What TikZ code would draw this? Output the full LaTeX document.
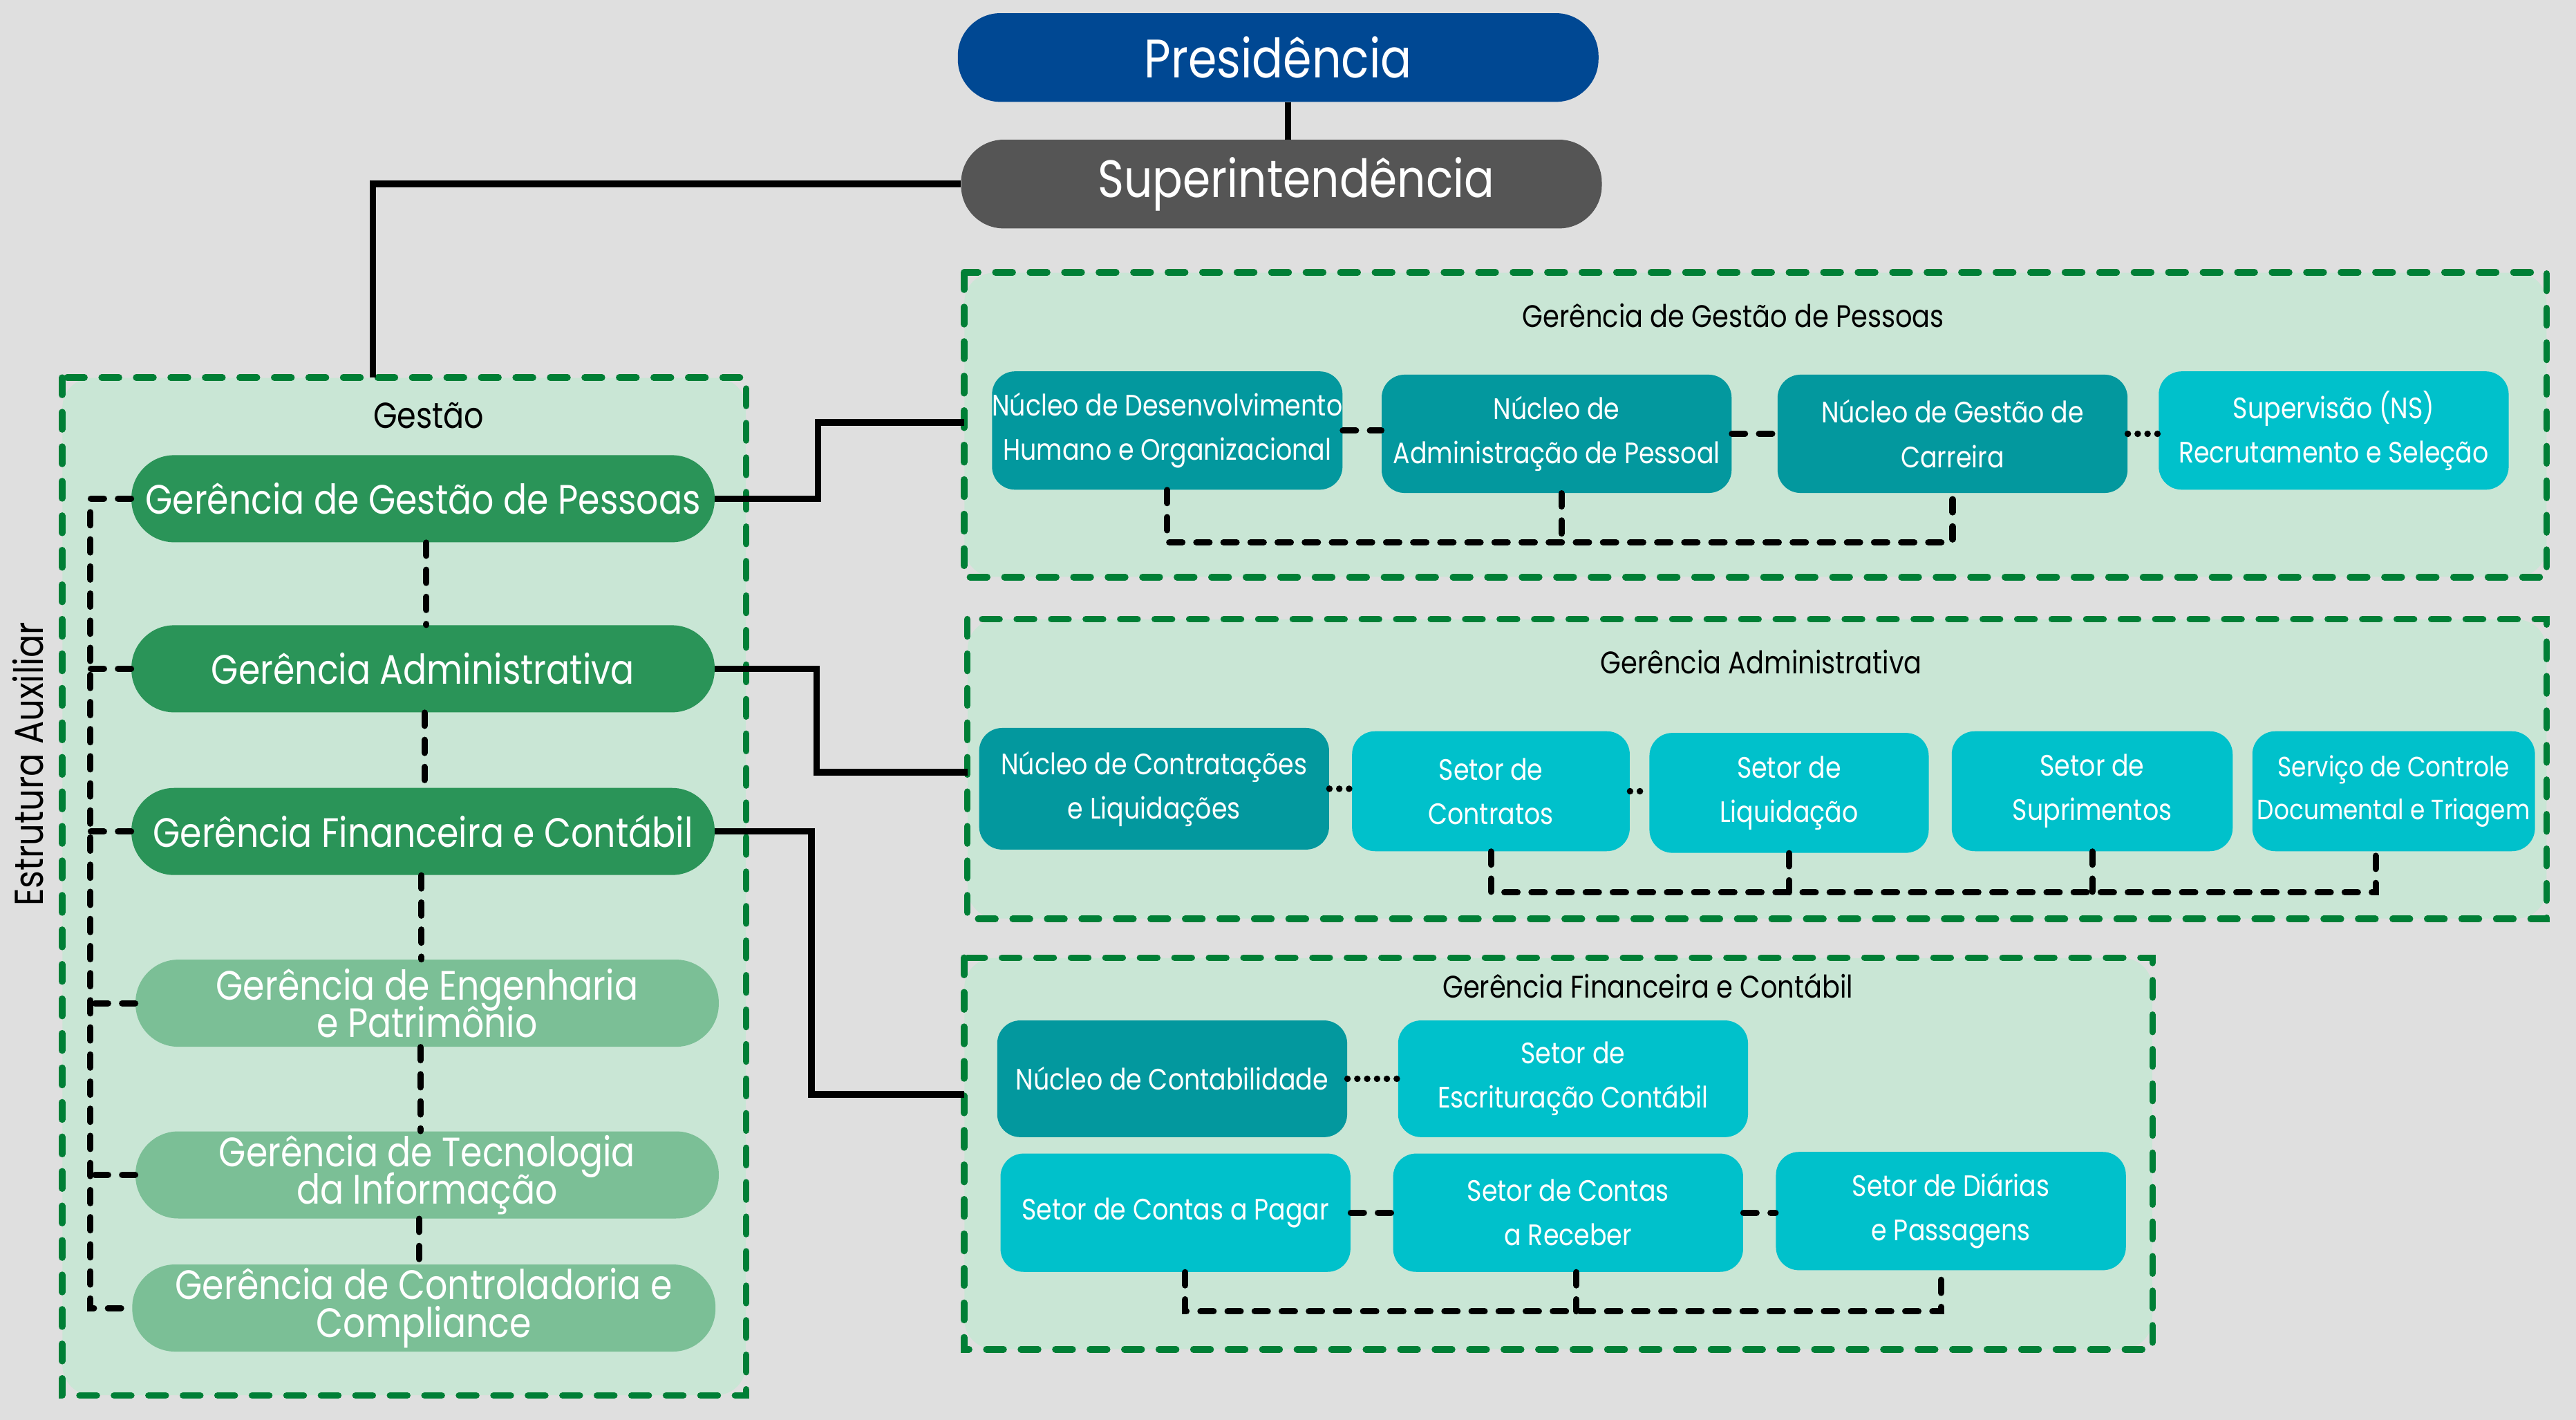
\documentclass[tikz,border=0pt]{standalone}
\usepackage{fontspec}
\setmainfont{Poppins}[FakeStretch=0.85]
\usetikzlibrary{calc}
\definecolor{bgc}{HTML}{DFDFDF}
\definecolor{presblue}{HTML}{004893}
\definecolor{supgray}{HTML}{555555}
\definecolor{gdark}{HTML}{2A9458}
\definecolor{glight}{HTML}{7BBF96}
\definecolor{boxfill}{HTML}{C9E6D5}
\definecolor{dgreen}{HTML}{007F36}
\definecolor{tealdark}{HTML}{03989E}
\definecolor{cyanlight}{HTML}{00C1CB}
\begin{document}
\setlength{\lineskiplimit}{-40pt}
\begin{tikzpicture}[x=1pt,y=-1pt,
  pill/.style={rectangle, rounded corners=26pt, text=white, inner sep=0pt, align=center, font=\fontsize{25}{23}\selectfont},
  toppill/.style={pill, minimum width=390pt, minimum height=54pt, font=\fontsize{33}{36}\selectfont},
  gpill/.style={pill, minimum width=355pt, minimum height=53pt},
  unit/.style={rectangle, rounded corners=14pt, text=white, inner sep=0pt, align=center, minimum height=72pt, minimum width=213pt, font=\fontsize{18}{27}\selectfont},
  dark/.style={unit, fill=tealdark},
  light/.style={unit, fill=cyanlight},
  cont/.style={rectangle, fill=boxfill, rounded corners=18pt, inner sep=0pt},
  ttl/.style={inner sep=0pt, text=black, font=\fontsize{19}{22}\selectfont},
  gdash/.style={draw=dgreen, line width=4pt, line cap=round, dash pattern=on 10.5pt off 10.5pt},
  conn/.style={draw=black, line width=4pt},
  bdash/.style={draw=black, line width=3.8pt, line cap=round, dash pattern=on 8pt off 8.5pt},
  bdot/.style={draw=black, line width=4pt, line cap=round, dash pattern=on 0pt off 6pt}
]
\useasboundingbox (0,0) rectangle (1568,864);
\fill[bgc] (0,0) rectangle (1568,864);

% containers
\node[cont, minimum width=416pt, minimum height=619pt] (gestao) at (246,539.5) {};
\node[cont, minimum width=963pt, minimum height=185pt] (cggp) at (1068.5,258.5) {};
\node[cont, minimum width=961pt, minimum height=182pt] (cga) at (1069.5,468) {};
\node[cont, minimum width=723pt, minimum height=238pt] (cgfc) at (948.5,702) {};
\foreach \c in {gestao,cggp,cga,cgfc}
  \draw[gdash] (\c.north west) rectangle (\c.south east);

% titles
\node[inner sep=0pt, font=\fontsize{22}{24}\selectfont] (tgestao) at (261,253) {Gestão};
\node[ttl] (tggp) at (1055,192) {Gerência de Gestão de Pessoas};
\node[ttl] (tga) at (1072,403) {Gerência Administrativa};
\node[ttl] (tgfc) at (1003,600) {Gerência Financeira e Contábil};
\node[inner sep=0pt, rotate=90, font=\fontsize{24.5}{26}\selectfont] (eaux) at (17,465) {Estrutura Auxiliar};

% top
\node[toppill, fill=presblue] (pres) at (778,35) {\raisebox{-1pt}{Presidência}};
\node[toppill, fill=supgray, font=\fontsize{32}{36}\selectfont] (sup) at (780,112) {\hspace*{18pt}\raisebox{-4pt}{Superintendência}};

% gerencias
\node[gpill, fill=gdark] (ggp) at (257.5,303.5) {Gerência de Gestão de Pessoas};
\node[gpill, fill=gdark] (ga) at (257.5,407) {Gerência Administrativa};
\node[gpill, fill=gdark] (gfc) at (257.5,506) {Gerência Financeira e Contábil};
\node[gpill, fill=glight] (gep) at (260,610.5) {Gerência de Engenharia\\e Patrimônio};
\node[gpill, fill=glight] (gti) at (260,715) {Gerência de Tecnologia\\da Informação};
\node[gpill, fill=glight] (gcc) at (258,796) {Gerência de Controladoria e\\Compliance};

% GGP units
\node[dark] (ndho) at (710.5,262) {Núcleo de Desenvolvimento\\Humano e Organizacional};
\node[dark] (nap) at (947.5,264) {Núcleo de\\Administração de Pessoal};
\node[dark] (ngc) at (1188.5,264) {Núcleo de Gestão de\\Carreira};
\node[light] (sns) at (1420.5,262) {Supervisão (NS)\\Recrutamento e Seleção};

% GA units
\node[dark, minimum height=74pt] (ncl) at (702.5,480) {Núcleo de Contratações\\e Liquidações};
\node[light, minimum width=169pt, minimum height=73pt] (sc) at (907.5,481.5) {Setor de\\Contratos};
\node[light, minimum width=170pt, minimum height=73pt] (sl) at (1089,482.5) {Setor de\\Liquidação};
\node[light, minimum width=171pt, minimum height=73pt] (ss) at (1273.5,481.5) {Setor de\\Suprimentos};
\node[light, minimum width=172pt, minimum height=73pt, font=\fontsize{17}{26}\selectfont] (scdt) at (1457,481.5) {Serviço de Controle\\Documental e Triagem};

% GFC units
\node[dark, minimum height=71pt] (nc) at (713.5,656.5) {Núcleo de Contabilidade};
\node[light, minimum height=71pt] (sec) at (957.5,656.5) {Setor de\\Escrituração Contábil};
\node[light] (scp) at (715.5,738) {Setor de Contas a Pagar};
\node[light] (scr) at (954.5,738) {Setor de Contas\\a Receber};
\node[light] (sdp) at (1187.5,737) {Setor de Diárias\\e Passagens};

% helper coordinates
\coordinate (j1) at (498,0);
\coordinate (j2) at (497,0);
\coordinate (j3) at (494,0);
\coordinate (jl) at (55,0);
\coordinate (bus1) at (0,330);
\coordinate (bus2) at (0,543);
\coordinate (bus3) at (0,798);

% solid connectors
\draw[conn] ($(pres.south)+(6,0)$) -- ($(pres.south |- sup.north)+(6,0)$);
\draw[conn] (sup.west) -| ($(gestao.north)+(-19,0)$);
\draw[conn] (ggp.east) -- (ggp.east -| j1) |- ($(cggp.west)+(0,-1.5)$);
\draw[conn] (ga.east) -- (ga.east -| j2) |- ($(cga.west)+(0,2)$);
\draw[conn] (gfc.east) -- (gfc.east -| j3) |- ($(cgfc.west)+(0,-36)$);

% gestao internal dashed
\draw[bdash] (ggp.west) -- (ggp.west -| jl) -- (gcc.west -| jl) -- (gcc.west);
\foreach \g in {ga,gfc,gep,gti}
  \draw[bdash] (\g.west) -- (\g.west -| jl);
\draw[bdash] ($(ggp.south)+(2,0)$) -- ($(ggp.south |- ga.north)+(2,0)$);
\draw[bdash] ($(ga.south)+(1,0)$) -- ($(ga.south |- gfc.north)+(1,0)$);
\draw[bdash] ($(gfc.south)+(-1,0)$) -- ($(gfc.south |- gep.north)+(-1,0)$);
\draw[bdash] ($(gep.south)+(-4,0)$) -- ($(gep.south |- gti.north)+(-4,0)$);
\draw[bdash] ($(gti.south)+(-5,0)$) -- ($(gti.south |- gcc.north)+(-5,0)$);

% GGP connectors
\draw[bdash] (ndho.east) -- (ndho.east -| nap.west);
\draw[bdash] (nap.east) -- (nap.east -| ngc.west);
\draw[bdot] (ngc.east) -- (ngc.east -| sns.west);
\draw[bdash] (ndho.south) -- (ndho.south |- bus1) -| (ngc.south);
\draw[bdash] ($(nap.south)+(3,0)$) -- ($(nap.south |- bus1)+(3,0)$);

% GA connectors
\draw[bdot] (ncl.east) -- (ncl.east -| sc.west);
\draw[bdot] (sc.east) -- (sc.east -| sl.west);
\draw[bdash] (sc.south) -- (sc.south |- bus2) -| ($(scdt.south)+(-11,0)$);
\draw[bdash] (sl.south) -- (sl.south |- bus2);
\draw[bdash] (ss.south) -- (ss.south |- bus2);

% GFC connectors
\draw[bdot] (nc.east) -- (nc.east -| sec.west);
\draw[bdash] (scp.east) -- (scp.east -| scr.west);
\draw[bdash] (scr.east) -- (scr.east -| sdp.west);
\draw[bdash] ($(scp.south)+(6,0)$) -- ($(scp.south |- bus3)+(6,0)$) -| ($(sdp.south)+(-6,0)$);
\draw[bdash] ($(scr.south)+(5,0)$) -- ($(scr.south |- bus3)+(5,0)$);
\end{tikzpicture}
\end{document}
